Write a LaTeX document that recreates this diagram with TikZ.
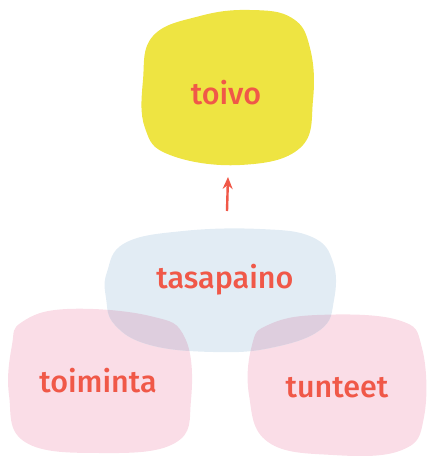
\documentclass[tikz,border=0pt]{standalone}
\usepackage{fontspec}
\setmainfont{Fira Sans}[BoldFont={Fira Sans Medium}]
\usetikzlibrary{arrows.meta}
\definecolor{txt}{RGB}{240,88,72}
\definecolor{yel}{RGB}{238,228,66}
\definecolor{blu}{RGB}{226,236,244}
\definecolor{pnk}{RGB}{250,221,231}
\definecolor{ovl}{RGB}{222,206,222}
\tikzset{
  lbl/.style={text=txt,font=\fontsize{30.5}{34}\selectfont\bfseries,inner sep=0pt},
  conn/.style={draw=txt,line width=2.4pt,-{Stealth[length=12pt,width=10pt]}}
}
\begin{document}
\begin{tikzpicture}[x=1pt,y=-1pt]
\useasboundingbox (0,0) rectangle (427,456);
\def\yelpath{plot[smooth cycle,tension=0.7] coordinates {(143,80) (153,36) (200,16) (250,10) (292,18) (310,48) (313,100) (300,148) (240,165) (170,155) (145,128)}}
\def\blupath{plot[smooth cycle,tension=0.7] coordinates {(107,272) (125,243) (183,231) (260,229) (312,237) (333,262) (334,300) (320,330) (270,348) (213,352) (150,345) (115,325) (106,298)}}
\def\pklpath{plot[smooth cycle,tension=0.7] coordinates {(12,345) (22,322) (67,309) (150,316) (185,338) (191,400) (175,443) (100,453) (25,442) (9,395)}}
\def\pkrpath{plot[smooth cycle,tension=0.7] coordinates {(252,345) (268,325) (317,315) (398,320) (422,348) (424,417) (402,450) (333,455) (268,442) (249,395)}}
\fill[yel] \yelpath;
\fill[pnk] \pklpath;
\fill[pnk] \pkrpath;
\fill[blu] \blupath;
\begin{scope}
\clip \blupath;
\fill[ovl] \pklpath;
\fill[ovl] \pkrpath;
\end{scope}
\node[lbl] (toivo) at (226,93) {toivo};
\node[lbl] (tasapaino) at (225,280) {tasapaino};
\node[lbl] (toiminta) at (98,381) {toiminta};
\node[lbl] (tunteet) at (337,388) {tunteet};
\coordinate (from) at (227,211);
\coordinate (to) at (228,177);
\draw[conn] (from) -- (to);
\end{tikzpicture}
\end{document}
